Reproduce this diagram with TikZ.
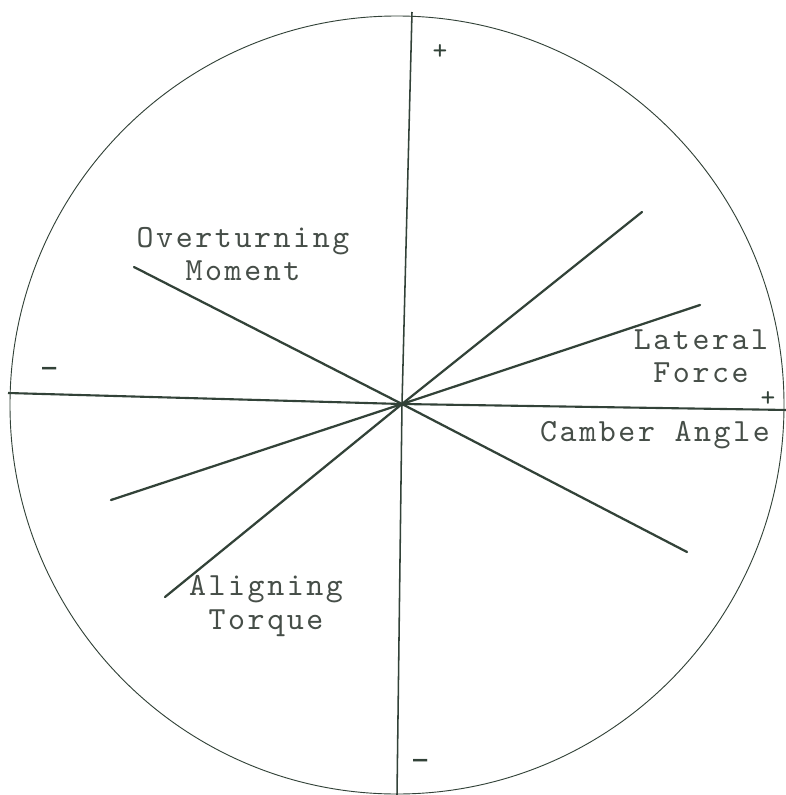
\documentclass[tikz,border=0pt]{standalone}
\usepackage{fontspec}
\newfontfamily\typo{lmmono10-regular.otf}[LetterSpace=8]
\newfontfamily\typoplain{lmmono10-regular.otf}
\definecolor{ink}{RGB}{50,66,56}
\definecolor{txt}{RGB}{70,78,72}
\tikzset{
  radial/.style={draw=ink, line width=3.2pt, line cap=round},
  axisline/.style={draw=ink, line width=2.2pt},
  rim/.style={draw=ink, line width=1.3pt},
  lbl/.style={text=txt, font=\typo\fontsize{46}{47}\selectfont, align=center, inner sep=0pt},
  plussgn/.style={text=ink, font=\typoplain\fontsize{40}{40}\selectfont, inner sep=0pt},
  minussgn/.style={text=ink, font=\bfseries\fontsize{36}{36}\selectfont, inner sep=0pt}
}
\begin{document}
\begin{tikzpicture}[x=0.5mm, y=-0.5mm]
\useasboundingbox (0,0) rectangle (786,795);
\fill[white] (0,0) rectangle (786,795);
% rim
\draw[rim] (397,405) ellipse [x radius=193.5mm, y radius=194.5mm];
% centre and end points
\coordinate (O) at (402,404);
\coordinate (vt) at (412,12);
\coordinate (vb) at (397,795);
\coordinate (hl) at (8,393);
\coordinate (hr) at (788,410);
\coordinate (ur) at (642,212);
\coordinate (ll) at (165,597);
\coordinate (lf) at (700,305);
\coordinate (lfl) at (111,500);
\coordinate (om) at (134,267);
\coordinate (omr) at (687,552);
% axes
\draw[axisline] (vt) -- (O) -- (vb);
\draw[axisline, line width=3pt] (hl) -- (O) -- (hr);
% radial lines
\draw[radial] (ur) -- (O) -- (ll);
\draw[radial] (lf) -- (O) -- (lfl);
\draw[radial] (om) -- (O) -- (omr);
% labels
\node[lbl] (tOM) at (243,254) {Overturning\\Moment};
\node[lbl] (tLF) at (701,356) {Lateral\\Force};
\node[lbl] (tCA) at (655,435) {Camber Angle};
\node[lbl] (tAT) at (266,606) {Aligning\\Torque};
% signs
\node[plussgn] (pT) at (440,52) {+};
\node[plussgn] (pR) at (768,399) {+};
\node[minussgn] (mL) at (50,378) {\scalebox{1}[3]{–}};
\node[minussgn] (mB) at (421,770) {\scalebox{1}[3]{–}};
\end{tikzpicture}
\end{document}
